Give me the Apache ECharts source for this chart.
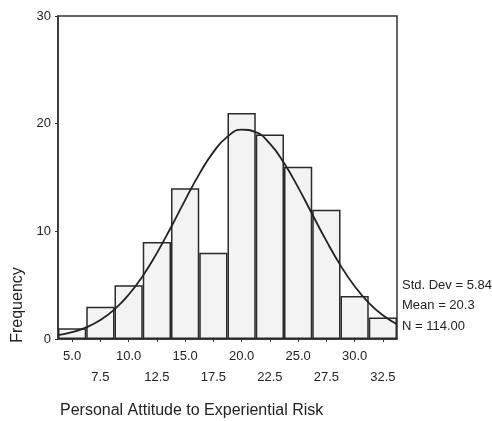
<!DOCTYPE html>
<html><head><meta charset="utf-8">
<script src="https://cdn.jsdelivr.net/npm/echarts@6/dist/echarts.min.js"></script>
<style>html,body{margin:0;padding:0;background:#fff}#c{width:492px;height:421px}</style>
</head><body><div id="c"></div>
<script>
const categories = ['5.0','7.5','10.0','12.5','15.0','17.5','20.0','22.5','25.0','27.5','30.0','32.5'];
const frequencies = [1,3,5,9,14,8,21,19,16,12,4,2];
const curveX = [3.75,5,6.25,7.5,8.75,10,11.25,12.5,13.75,15,16.25,17.5,18.75,20,21.25,22.5,23.75,25,26.25,27.5,28.75,30,31.25,32.5,33.75];
const curveY = [0.35,0.63,1.08,1.76,2.75,4.11,5.86,7.98,10.38,12.9,15.31,17.36,18.8,19.44,19.21,18.14,16.35,14.08,11.59,9.11,6.84,4.9,3.36,2.2,1.37];
const yTicks = [0,10,20,30];
const statsLines = ['Std. Dev = 5.84','Mean = 20.3','N = 114.00'];
const xTitle = 'Personal Attitude to Experiential Risk';
const yTitle = 'Frequency';

const font = 'Liberation Sans, Arial, sans-serif';
const chart = echarts.init(document.getElementById('c'), null, {renderer:'canvas'});
chart.setOption({
  animation:false,
  grid:{left:58, top:16, width:339, height:323, show:true, borderColor:'#333', borderWidth:1.5, backgroundColor:'transparent'},
  xAxis:[{
    type:'category', data:categories, boundaryGap:true,
    axisLine:{lineStyle:{color:'#333', width:1.5}},
    axisTick:{show:true, length:3, alignWithLabel:true, lineStyle:{color:'#333'}},
    axisLabel:{color:'#222', fontFamily:font, fontSize:13, margin:7, lineHeight:21, interval:0,
      formatter:(v,i)=> i%2 ? '\n'+v : v}
  },{
    type:'value', min:3.75, max:33.75, show:false
  }],
  yAxis:{
    type:'value', min:0, max:30, interval:10,
    splitLine:{show:false},
    axisLine:{show:true, lineStyle:{color:'#333', width:1.5}},
    axisTick:{show:true, length:3, lineStyle:{color:'#333'}},
    axisLabel:{color:'#222', fontFamily:font, fontSize:13, margin:7,
      formatter:v=> yTicks.includes(v) ? String(v) : ''}
  },
  series:[{
    type:'bar', data:frequencies, xAxisIndex:0, barCategoryGap:'0%',
    itemStyle:{color:'#f3f3f3', borderColor:'#2a2a2a', borderWidth:1.5}
  },{
    type:'line', xAxisIndex:1, data:curveX.map((x,i)=>[x,curveY[i]]),
    smooth:true, showSymbol:false, lineStyle:{color:'#222', width:1.8}
  }],
  graphic:[
    {type:'text', left:402, top:275, style:{text:statsLines.join('\n'), fill:'#222', font:'13px '+font, lineHeight:20.5}},
    {type:'text', left:60, top:403, style:{text:xTitle, fill:'#222', font:'16px '+font}},
    {type:'text', x:18, y:305, rotation:Math.PI/2, style:{text:yTitle, fill:'#222', font:'16px '+font, align:'center', verticalAlign:'middle'}}
  ]
});
</script></body></html>
